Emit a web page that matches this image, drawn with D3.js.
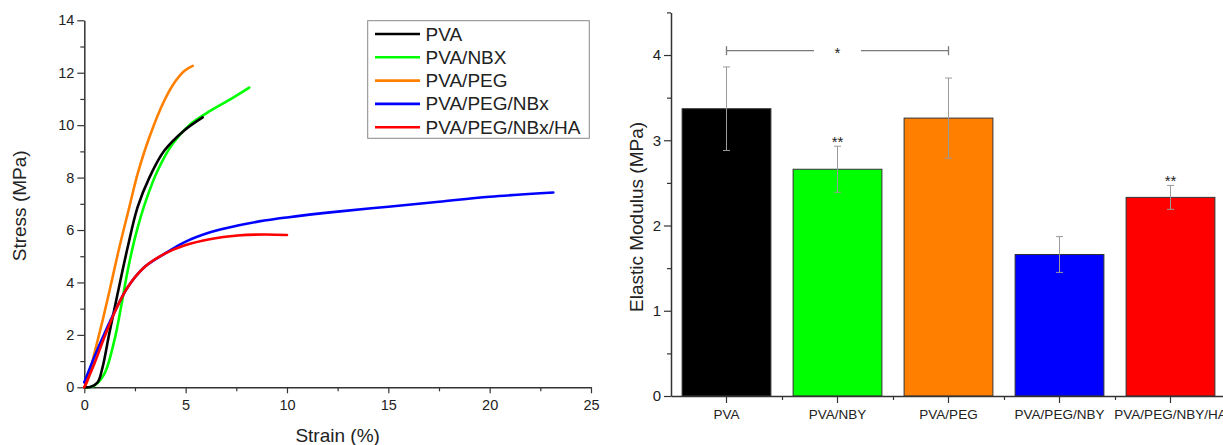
<!DOCTYPE html>
<html>
<head>
<meta charset="utf-8">
<script src="https://cdn.jsdelivr.net/npm/d3@7"></script>
<style>
  html, body { margin: 0; padding: 0; background: #fff; }
  svg { display: block; font-family: "Liberation Sans", Arial, sans-serif; }
</style>
</head>
<body>
<svg id="chart" width="1223" height="445"></svg>
<script>
// ---------- Left panel: stress–strain curves ----------
const seriesNames = ["PVA", "PVA/NBX", "PVA/PEG", "PVA/PEG/NBx", "PVA/PEG/NBx/HA"];
const seriesColors = ["#000000", "#00ff00", "#ff8000", "#0000ff", "#ff0000"];

const strainPVA = [0, 0.33, 0.66, 0.9, 1.23, 1.64, 2.14, 2.63, 3.21, 3.95, 4.93, 5.84];
const stressPVA = [0, 0.02, 0.19, 0.76, 2.04, 3.56, 5.34, 6.87, 8.0, 9.03, 9.8, 10.3];

const strainNBX = [0, 0.25, 0.49, 0.99, 1.48, 1.81, 2.14, 2.55, 3.04, 3.62, 4.36, 5.26, 6.25, 7.24, 8.14];
const stressNBX = [0, 0.0, 0.06, 0.51, 1.78, 3.05, 4.45, 5.85, 7.12, 8.27, 9.29, 10.05, 10.56, 11.0, 11.43];

const strainPEG = [0, 0.16, 0.49, 0.9, 1.32, 1.73, 2.22, 2.63, 3.21, 3.95, 4.52, 4.95, 5.35];
const stressPEG = [0, 0.25, 1.27, 2.54, 3.94, 5.34, 6.87, 8.14, 9.54, 10.94, 11.7, 12.08, 12.26];

const strainPEGNBx = [0, 0.49, 0.99, 1.56, 2.14, 2.96, 3.95, 4.93, 6.25, 7.57, 8.88, 10.0, 12.5, 15.0, 17.5, 20.0, 23.14];
const stressPEGNBx = [0.19, 1.15, 2.04, 2.98, 3.82, 4.58, 5.09, 5.53, 5.92, 6.17, 6.36, 6.48, 6.7, 6.89, 7.08, 7.27, 7.43];

const strainHA = [0, 0.49, 0.99, 1.56, 2.14, 2.96, 3.95, 4.93, 6.25, 7.57, 8.88, 10.0];
const stressHA = [0, 0.89, 1.91, 2.97, 3.82, 4.58, 5.09, 5.41, 5.66, 5.79, 5.83, 5.81];

const strainTicks = [0, 5, 10, 15, 20, 25];
const stressTicks = [0, 2, 4, 6, 8, 10, 12, 14];

// ---------- Right panel: elastic modulus bars ----------
const groups = ["PVA", "PVA/NBY", "PVA/PEG", "PVA/PEG/NBY", "PVA/PEG/NBY/HA"];
const modulus = [3.37, 2.66, 3.26, 1.66, 2.33];
const modulusErr = [0.49, 0.27, 0.47, 0.21, 0.14];
const barColors = ["#000000", "#00ff00", "#ff8000", "#0000ff", "#ff0000"];
const marks = ["", "**", "", "", "**"];
const modulusTicks = [0, 1, 2, 3, 4];

const svg = d3.select("#chart");
const textColor = "#222";
const axisColor = "#333";

// ===== Left panel =====
const x1 = d3.scaleLinear().domain([0, 25]).range([84.3, 591]);
const y1 = d3.scaleLinear().domain([0, 14]).range([387.3, 20.3]);

function styleAxis(g, fontSize) {
  g.attr("font-size", fontSize).attr("font-family", '"Liberation Sans", Arial, sans-serif');
  g.select(".domain").attr("stroke", axisColor).attr("stroke-width", 1.5);
  g.selectAll(".tick line").attr("stroke", axisColor).attr("stroke-width", 1.2);
  g.selectAll(".tick text").attr("fill", textColor);
}

// minor ticks
svg.append("g").attr("transform", `translate(0,${y1(0)})`)
  .call(d3.axisBottom(x1).tickValues(d3.range(2.5, 25, 5)).tickSize(4).tickFormat(""))
  .call(g => { g.select(".domain").remove(); g.selectAll(".tick line").attr("stroke", axisColor).attr("stroke-width", 1.2); });
svg.append("g").attr("transform", `translate(${x1(0)},0)`)
  .call(d3.axisLeft(y1).tickValues(d3.range(1, 14, 2)).tickSize(4).tickFormat(""))
  .call(g => { g.select(".domain").remove(); g.selectAll(".tick line").attr("stroke", axisColor).attr("stroke-width", 1.2); });

svg.append("g").attr("transform", `translate(0,${y1(0)})`)
  .call(d3.axisBottom(x1).tickValues(strainTicks).tickSize(6).tickSizeOuter(0).tickPadding(6).tickFormat(d3.format("d")))
  .call(g => styleAxis(g, 14.5));
svg.append("g").attr("transform", `translate(${x1(0)},0)`)
  .call(d3.axisLeft(y1).tickValues(stressTicks).tickSize(7).tickSizeOuter(0).tickPadding(3).tickFormat(d3.format("d")))
  .call(g => styleAxis(g, 14.5));

svg.append("text").attr("x", x1(12.5)).attr("y", 442).attr("text-anchor", "middle")
  .attr("fill", textColor).style("font-size", "19px").text("Strain (%)");
svg.append("text").attr("transform", `translate(19,${y1(7) + 2}) rotate(-90)`).attr("text-anchor", "middle")
  .attr("dominant-baseline", "central").attr("fill", textColor).style("font-size", "19px").text("Stress (MPa)");

const curves = [
  [strainPVA, stressPVA],
  [strainNBX, stressNBX],
  [strainPEG, stressPEG],
  [strainPEGNBx, stressPEGNBx],
  [strainHA, stressHA]
];
const lineGen = d3.line().x(d => x1(d[0])).y(d => y1(d[1])).curve(d3.curveCatmullRom.alpha(0.5));
// draw order: green, orange, black, blue, red
const order = [1, 2, 0, 3, 4];
order.forEach(i => {
  const pts = curves[i][0].map((s, k) => [s, curves[i][1][k]]);
  svg.append("path").datum(pts).attr("d", lineGen).attr("fill", "none")
    .attr("stroke", seriesColors[i]).attr("stroke-width", 2.6).attr("stroke-linejoin", "round").attr("stroke-linecap", "round");
});

// legend
const lg = svg.append("g");
lg.append("rect").attr("x", 367.7).attr("y", 20.7).attr("width", 221.6).attr("height", 117.6)
  .attr("fill", "#fff").attr("stroke", "#888").attr("stroke-width", 1);
seriesNames.forEach((n, i) => {
  const yy = 34 + i * 23.3;
  lg.append("line").attr("x1", 375).attr("x2", 420).attr("y1", yy).attr("y2", yy)
    .attr("stroke", seriesColors[i]).attr("stroke-width", 2.6);
  lg.append("text").attr("x", 425.5).attr("y", yy).attr("dominant-baseline", "central")
    .attr("fill", textColor).style("font-size", "19px").text(n);
});

// ===== Right panel =====
const x2 = d3.scaleBand().domain(groups).range([671, 1226]).paddingInner(0.2).paddingOuter(0.1);
const y2 = d3.scaleLinear().domain([0, 4.5]).range([396, 12.4]);

// bars
groups.forEach((g, i) => {
  svg.append("rect").attr("x", x2(g)).attr("y", y2(modulus[i]))
    .attr("width", x2.bandwidth()).attr("height", y2(0) - y2(modulus[i]))
    .attr("fill", barColors[i]).attr("stroke", "#333").attr("stroke-width", 1);
});
// error bars
groups.forEach((g, i) => {
  const cx = x2(g) + x2.bandwidth() / 2;
  const top = y2(modulus[i] + modulusErr[i]);
  const bot = y2(modulus[i] - modulusErr[i]);
  const eg = svg.append("g").attr("stroke", "#9a9a9a").attr("stroke-width", 1);
  eg.append("line").attr("x1", cx).attr("x2", cx).attr("y1", top).attr("y2", bot);
  eg.append("line").attr("x1", cx - 3.5).attr("x2", cx + 3.5).attr("y1", top).attr("y2", top);
  eg.append("line").attr("x1", cx - 3.5).attr("x2", cx + 3.5).attr("y1", bot).attr("y2", bot);
  if (marks[i]) {
    svg.append("text").attr("x", cx).attr("y", top + 1).attr("text-anchor", "middle")
      .attr("fill", textColor).style("font-size", "15px").text(marks[i]);
  }
});

// significance bracket between PVA and PVA/PEG
{
  const xa = x2(groups[0]) + x2.bandwidth() / 2;
  const xb = x2(groups[2]) + x2.bandwidth() / 2;
  const yb = 50.7;
  const xm = (xa + xb) / 2;
  const bg = svg.append("g").attr("stroke", "#7a7a7a").attr("stroke-width", 1.3);
  bg.append("line").attr("x1", xa).attr("x2", xm - 23.5).attr("y1", yb).attr("y2", yb);
  bg.append("line").attr("x1", xm + 23.5).attr("x2", xb).attr("y1", yb).attr("y2", yb);
  bg.append("line").attr("x1", xa).attr("x2", xa).attr("y1", yb - 4.5).attr("y2", yb + 4.5);
  bg.append("line").attr("x1", xb).attr("x2", xb).attr("y1", yb - 4.5).attr("y2", yb + 4.5);
  svg.append("text").attr("x", xm).attr("y", yb + 7).attr("text-anchor", "middle")
    .attr("fill", textColor).style("font-size", "15px").text("*");
}

// axes
const minorX = groups.slice(0, -1).map((g) => x2(g) + x2.step() - (x2.step() - x2.bandwidth()) / 2);
svg.append("g").attr("transform", `translate(0,${y2(0)})`)
  .call(d3.axisBottom(d3.scaleLinear().domain([671, 1226]).range([671, 1226])).tickValues(minorX).tickSize(4).tickFormat(""))
  .call(g => { g.select(".domain").remove(); g.selectAll(".tick line").attr("stroke", axisColor).attr("stroke-width", 1.2); });
svg.append("g").attr("transform", `translate(${x2.range()[0]},0)`)
  .call(d3.axisLeft(y2).tickValues([0.5, 1.5, 2.5, 3.5, 4.5]).tickSize(4).tickFormat(""))
  .call(g => { g.select(".domain").remove(); g.selectAll(".tick line").attr("stroke", axisColor).attr("stroke-width", 1.2); });

svg.append("g").attr("transform", `translate(0,${y2(0)})`)
  .call(d3.axisBottom(x2).tickSize(7).tickSizeOuter(0).tickPadding(6))
  .call(g => styleAxis(g, 13.5));
svg.append("g").attr("transform", `translate(${x2.range()[0]},0)`)
  .call(d3.axisLeft(y2).tickValues(modulusTicks).tickSize(7).tickSizeOuter(0).tickPadding(3).tickFormat(d3.format("d")))
  .call(g => styleAxis(g, 15));

svg.append("text").attr("transform", `translate(636,${y2(2.1)}) rotate(-90)`).attr("text-anchor", "middle")
  .attr("dominant-baseline", "central").attr("fill", textColor).style("font-size", "19px").text("Elastic Modulus (MPa)");
</script>
</body>
</html>
